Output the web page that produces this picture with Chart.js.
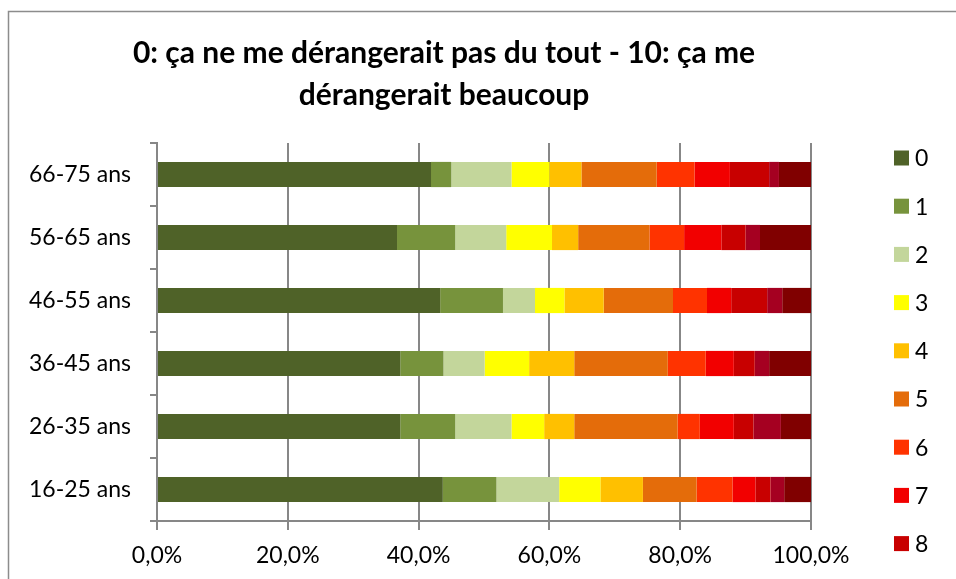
<!DOCTYPE html>
<html>
<head>
<meta charset="utf-8">
<script src="https://cdn.jsdelivr.net/npm/chart.js@4.4.0/dist/chart.umd.min.js"></script>
<style>
    html, body { margin: 0; padding: 0; background: #ffffff; }
    #chart-box { width: 956px; height: 579px; }
</style>
</head>
<body>
<div id="chart-box"><canvas id="chart-area"></canvas></div>
<script>
// Age groups, top to bottom as in the picture
const ageGroups = ['66-75 ans', '56-65 ans', '46-55 ans', '36-45 ans', '26-35 ans', '16-25 ans'];

// Share of answers (%) for each score, one value per age group
const score0 = [41.9, 36.7, 43.3, 37.2, 37.2, 43.7];
const score1 = [3.1, 8.9, 9.6, 6.6, 8.4, 8.2];
const score2 = [9.2, 7.8, 4.9, 6.3, 8.6, 9.6];
const score3 = [5.8, 7.0, 4.5, 6.8, 5.0, 6.3];
const score4 = [4.9, 4.0, 6.0, 6.9, 4.6, 6.5];
const score5 = [11.5, 10.9, 10.6, 14.3, 15.8, 8.2];
const score6 = [5.8, 5.3, 5.2, 5.8, 3.4, 5.5];
const score7 = [5.4, 5.7, 3.7, 4.3, 5.2, 3.5];
const score8 = [6.0, 3.7, 5.5, 3.2, 3.0, 2.3];
const score9 = [1.5, 2.2, 2.3, 2.2, 4.2, 2.1];
const score10 = [5.0, 7.8, 4.4, 6.4, 4.6, 4.1];

const scoreLabels = ['0', '1', '2', '3', '4', '5', '6', '7', '8', '9', '10'];
const scoreValues = [score0, score1, score2, score3, score4, score5, score6, score7, score8, score9, score10];
const scoreColors = ['#4F6228', '#77933C', '#C3D69B', '#FFFF00', '#FFC000', '#E46C0A',
    '#FF3300', '#F20000', '#C80000', '#A50021', '#800000'];

const titleLines = ['0: ça ne me dérangerait pas du tout - 10: ça me', 'dérangerait beaucoup'];

const fontFamily = 'Lato, Carlito, Calibri, sans-serif';
const gridColor = '#878787';

// White background and the frame around the chart (cut off right and bottom)
const framePlugin = {
    id: 'frame',
    beforeDraw(chart) {
        const ctx = chart.ctx;
        ctx.save();
        ctx.fillStyle = '#ffffff';
        ctx.fillRect(0, 0, chart.width, chart.height);
        ctx.strokeStyle = '#8c8c8c';
        ctx.lineWidth = 1.5;
        ctx.strokeRect(8.5, 11.5, chart.width + 20, chart.height + 20);
        ctx.restore();
    }
};

// Title drawn by hand so it can sit off-centre like in Excel
const titlePlugin = {
    id: 'offTitle',
    afterDraw(chart) {
        const ctx = chart.ctx;
        ctx.save();
        ctx.font = 'bold 30px ' + fontFamily;
        ctx.fillStyle = '#000000';
        ctx.textAlign = 'center';
        ctx.textBaseline = 'middle';
        titleLines.forEach((line, i) => {
            ctx.fillText(line, 444, 53 + i * 42);
        });
        ctx.restore();
    }
};

// Simple legend on the right, drawn from the datasets
const legendPlugin = {
    id: 'sideLegend',
    afterDraw(chart) {
        const ctx = chart.ctx;
        ctx.save();
        ctx.font = '23px ' + fontFamily;
        ctx.textBaseline = 'middle';
        chart.data.datasets.forEach((ds, i) => {
            const y = 158 + i * 48.2;
            ctx.fillStyle = ds.backgroundColor;
            ctx.fillRect(894, y - 7.5, 15, 15);
            ctx.fillStyle = '#000000';
            ctx.fillText(ds.label, 915, y + 1);
        });
        ctx.restore();
    }
};

const chartData = {
    labels: ageGroups,
    datasets: scoreLabels.map((label, i) => ({
        label: label,
        data: scoreValues[i],
        backgroundColor: scoreColors[i],
        borderWidth: 0,
        categoryPercentage: 0.4,
        barPercentage: 1.0,
    })),
};

const chartOptions = {
    indexAxis: 'y',
    responsive: false,
    animation: false,
    layout: {
        padding: { left: 14, right: 145, top: 143, bottom: 0 },
    },
    plugins: {
        legend: { display: false },
        tooltip: { enabled: false },
        title: { display: false },
    },
    scales: {
        x: {
            stacked: true,
            min: 0,
            max: 100,
            ticks: {
                stepSize: 20,
                color: '#000000',
                font: { family: fontFamily, size: 23 },
                padding: 12,
                callback: value => value.toFixed(1).replace('.', ',') + '%',
            },
            grid: {
                color: gridColor,
                lineWidth: 2,
                tickLength: 9,
            },
            border: { color: gridColor, width: 2 },
            afterFit: scale => { scale.height = 58; },
        },
        y: {
            stacked: true,
            ticks: {
                color: '#000000',
                font: { family: fontFamily, size: 23 },
                padding: 19,
            },
            grid: {
                drawOnChartArea: false,
                color: gridColor,
                lineWidth: 2,
                tickLength: 7,
            },
            border: { color: gridColor, width: 2 },
            afterFit: scale => { scale.width = 143; },
        },
    },
};

const canvas = document.getElementById('chart-area');
canvas.width = 956;
canvas.height = 579;

new Chart(canvas, {
    type: 'bar',
    data: chartData,
    options: chartOptions,
    plugins: [framePlugin, titlePlugin, legendPlugin],
});
</script>
</body>
</html>
